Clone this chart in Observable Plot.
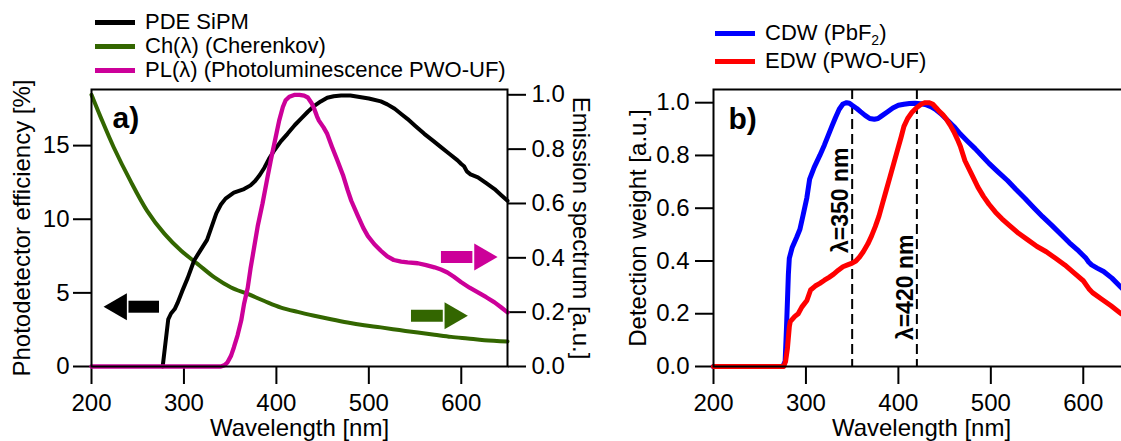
<!DOCTYPE html>
<html><head><meta charset="utf-8">
<script src="https://cdn.jsdelivr.net/npm/d3@7"></script>
<script src="https://cdn.jsdelivr.net/npm/@observablehq/plot@0.6"></script>
<style>
body{margin:0;background:#fff;}
#wrap{position:relative;width:1121px;height:441px;overflow:hidden;font-family:"Liberation Sans",Arial,sans-serif;color:#000;}
.panel{position:absolute;top:0;}
.legend{position:absolute;font-size:22px;line-height:1;}
.legend .row{display:flex;align-items:center;}
.sw{display:inline-block;width:40px;height:5px;margin-right:10px;}
sub{font-size:14px;vertical-align:-5px;line-height:0;}
</style></head><body><div id="wrap"></div>
<script>
// ---------- data ----------
const xTicks = [200, 300, 400, 500, 600];
const leftTicks = [0, 5, 10, 15];
const rightTicks = [0, 0.2, 0.4, 0.6, 0.8, 1.0];
const bTicks = [0, 0.2, 0.4, 0.6, 0.8, 1.0];
const xDomain = [200, 650];
const leftDomain = [0, 18.81];
const rightToLeft = 18.45; // 1.0 on right axis == 18.45 % on left axis
const bDomain = [0, 1.05];

// PDE SiPM [%] (left axis)
const pde = [[277,0],[283,3.2],[286,3.6],[290,3.9],[293,4.3],[298,5.1],[304,6.0],[311,7.2],[318,7.9],[325,8.6],[330,9.5],[335,10.4],[340,11.0],[345,11.4],[354,11.8],[365,12.05],[372,12.3],[377,12.6],[382,13.0],[387,13.5],[392,14.1],[398,14.7],[405,15.3],[412,15.8],[420,16.4],[427,16.85],[434,17.3],[441,17.7],[448,18.0],[455,18.25],[462,18.35],[470,18.4],[480,18.4],[490,18.3],[500,18.2],[513,18.0],[520,17.8],[528,17.5],[535,17.15],[542,16.8],[550,16.35],[560,15.8],[570,15.3],[578,14.9],[587,14.45],[596,14.0],[600,13.75],[603,13.6],[606,13.25],[610,13.05],[618,12.85],[627,12.45],[636,12.05],[643,11.65],[650,11.25]];
// Cherenkov Ch(λ) [a.u.] (right axis)
const cherenkov = [[200,1.0],[210,0.917],[224,0.807],[242,0.684],[260,0.574],[279,0.488],[297,0.426],[315,0.377],[333,0.328],[351,0.291],[369,0.267],[387,0.241],[405,0.217],[423,0.201],[441,0.187],[459,0.174],[477,0.162],[495,0.152],[513,0.144],[533,0.134],[553,0.125],[571,0.117],[589,0.109],[607,0.103],[625,0.097],[650,0.092]];
// Photoluminescence PL(λ) PWO-UF [a.u.] (right axis)
const pl = [[200,0],[340,0],[344,0.005],[347,0.015],[351,0.04],[354,0.07],[358,0.115],[362,0.17],[365,0.23],[369,0.29],[372,0.36],[376,0.44],[380,0.52],[385,0.6],[390,0.69],[394,0.76],[399,0.84],[403,0.905],[407,0.955],[410,0.98],[414,0.993],[420,1.0],[425,1.0],[430,0.997],[434,0.99],[438,0.97],[441,0.948],[444,0.92],[446,0.905],[451,0.88],[455,0.856],[460,0.81],[466,0.758],[472,0.705],[477,0.65],[481,0.61],[488,0.555],[494,0.51],[499,0.48],[506,0.45],[513,0.426],[520,0.405],[527,0.392],[535,0.386],[542,0.383],[553,0.38],[562,0.373],[571,0.365],[578,0.357],[585,0.346],[592,0.33],[600,0.31],[609,0.29],[618,0.273],[627,0.255],[636,0.236],[643,0.218],[650,0.199]];
// CDW (PbF2) detection weight
const cdw = [[200,0],[275,0],[277.5,0.02],[279,0.15],[280,0.25],[281,0.35],[282,0.41],[285,0.45],[290,0.49],[293.5,0.52],[297,0.575],[301,0.64],[304,0.71],[309,0.756],[315,0.8],[320,0.84],[324,0.875],[328,0.91],[332,0.944],[336,0.975],[340,0.995],[344,1.0],[347,0.998],[350,0.99],[355,0.978],[359,0.966],[364,0.952],[369,0.94],[374,0.937],[378,0.94],[382,0.95],[388,0.965],[394,0.98],[400,0.99],[406,0.994],[412,0.997],[418,0.998],[424,0.996],[429,0.993],[435,0.985],[440,0.975],[446,0.958],[452,0.937],[460,0.91],[467,0.881],[475,0.853],[483,0.826],[490,0.8],[498,0.77],[508,0.737],[518,0.705],[527,0.672],[537,0.637],[547,0.6],[556,0.568],[566,0.535],[576,0.5],[585,0.469],[595,0.438],[603,0.41],[606,0.395],[609,0.385],[615,0.373],[622,0.36],[631,0.335],[641,0.30],[650,0.27]];
// EDW (PWO-UF) detection weight
const edw = [[200,0],[276,0],[278,0.02],[280,0.07],[282,0.15],[283,0.17],[288,0.19],[291.6,0.2],[295.5,0.225],[301,0.25],[305,0.29],[310,0.305],[315,0.315],[320,0.327],[325,0.338],[330,0.35],[335,0.365],[340,0.378],[345,0.385],[350,0.392],[354,0.4],[358,0.415],[362,0.435],[367,0.465],[371,0.495],[375,0.53],[379,0.57],[383,0.62],[387,0.67],[391,0.72],[395,0.77],[399,0.82],[403,0.87],[406,0.91],[410,0.94],[415,0.965],[420,0.982],[425,0.995],[429,1.0],[433,1.0],[437,0.995],[441,0.98],[444,0.968],[448,0.955],[452,0.937],[456,0.915],[460,0.89],[464,0.86],[467,0.835],[472,0.78],[479,0.73],[486,0.68],[492,0.645],[498,0.615],[505,0.585],[512,0.56],[520,0.535],[530,0.505],[540,0.48],[550,0.455],[560,0.435],[570,0.41],[580,0.385],[590,0.355],[600,0.325],[606,0.295],[610,0.28],[620,0.255],[630,0.23],[641,0.2],[650,0.18]];

const markerLines = [350, 420];
const markerLabels = [{wl: 350, v: 0.63, text: "λ=350 nm"}, {wl: 420, v: 0.30, text: "λ=420 nm"}];
// direction arrows (data units): tail, head base, tip, level, axis
const arrowsA = [
  {tail: 273, base: 238, tip: 213.6, v: 4.06, axis: "left", color: "#000000"},
  {tail: 578, base: 614, tip: 639.4, v: 0.403, axis: "right", color: "#cc0099"},
  {tail: 545.6, base: 582, tip: 606.9, v: 0.187, axis: "right", color: "#336600"}
];

const legendA = [["PDE SiPM", "#000000"], ["Ch(λ) (Cherenkov)", "#336600"], ["PL(λ) (Photoluminescence PWO-UF)", "#cc0099"]];
const legendB = [["CDW (PbF<sub>2</sub>)", "#0000ff"], ["EDW (PWO-UF)", "#ff0000"]];

// ---------- drawing ----------
const K = rightToLeft;
const font = "Liberation Sans, Arial, sans-serif";
const wrap = document.getElementById("wrap");
const lvl = a => a.axis === "right" ? a.v * K : a.v;

const axisStyle = {tickSize: 18, strokeWidth: 2, fontSize: 24};

const plotA = Plot.plot({
  width: 600, height: 441,
  marginLeft: 91, marginRight: 93, marginTop: 89, marginBottom: 75,
  style: {fontFamily: font, fontSize: "24px", color: "#000", background: "transparent", overflow: "visible"},
  x: {domain: xDomain},
  y: {domain: leftDomain},
  marks: [
    Plot.axisX({ticks: xTicks, ...axisStyle, tickPadding: 9, label: null}),
    Plot.axisY({ticks: leftTicks, ...axisStyle, tickPadding: 4, label: null}),
    Plot.axisY(rightTicks.map(v => v * K), {anchor: "right", ...axisStyle, tickPadding: 6, tickFormat: d => (d / K).toFixed(1), label: null}),
    Plot.text(["Wavelength [nm]"], {frameAnchor: "bottom", dy: 62, textAnchor: "middle", lineAnchor: "middle", fontSize: 24}),
    Plot.text(["Photodetector efficiency [%]"], {frameAnchor: "left", dx: -69, rotate: -90, textAnchor: "middle", lineAnchor: "middle", fontSize: 24}),
    Plot.text(["Emission spectrum [a.u.]"], {frameAnchor: "right", dx: 73, rotate: 90, textAnchor: "middle", lineAnchor: "middle", fontSize: 24}),
    Plot.line(cherenkov, {x: d => d[0], y: d => d[1] * K, stroke: "#336600", strokeWidth: 4, curve: "catmull-rom"}),
    Plot.line(pde, {x: d => d[0], y: d => d[1], stroke: "#000000", strokeWidth: 4}),
    Plot.line(pl, {x: d => d[0], y: d => d[1] * K, stroke: "#cc0099", strokeWidth: 4.3}),
    Plot.link(arrowsA, {x1: "tail", x2: d => d.base + (d.tip < d.tail ? 2 : -2), y1: lvl, y2: lvl, stroke: "color", strokeWidth: 12, strokeLinecap: "butt"}),
    Plot.dot(arrowsA, {x: d => d.tip + (d.base - d.tip) * 2 / 3, y: lvl, symbol: "triangle", r: 10, fill: "color", stroke: null, rotate: d => d.tip < d.tail ? -90 : 90}),
    Plot.text(["a)"], {frameAnchor: "top-left", dx: 21, dy: 38, textAnchor: "start", lineAnchor: "bottom", fontSize: 30, fontWeight: "bold"}),
    Plot.frame({strokeWidth: 2})
  ]
});
plotA.classList.add("panel");
plotA.style.left = "0px";
wrap.appendChild(plotA);

const plotB = Plot.plot({
  width: 529, height: 441,
  marginLeft: 113, marginRight: 0, marginTop: 89, marginBottom: 75,
  style: {fontFamily: font, fontSize: "24px", color: "#000", background: "transparent", overflow: "visible"},
  x: {domain: xDomain},
  y: {domain: bDomain},
  marks: [
    Plot.axisX({ticks: xTicks, ...axisStyle, tickPadding: 9, label: null}),
    Plot.axisY({ticks: bTicks, ...axisStyle, tickPadding: 6, tickFormat: d => d.toFixed(1), label: null}),
    Plot.text(["Wavelength [nm]"], {frameAnchor: "bottom", dy: 62, textAnchor: "middle", lineAnchor: "middle", fontSize: 24}),
    Plot.text(["Detection weight [a.u.]"], {frameAnchor: "left", dx: -75, rotate: -90, textAnchor: "middle", lineAnchor: "middle", fontSize: 24}),
    Plot.ruleX(markerLines, {stroke: "#000", strokeWidth: 2, strokeDasharray: "10,5"}),
    Plot.text(markerLabels, {x: "wl", y: "v", text: "text", rotate: -90, dx: -4, lineAnchor: "bottom", fontSize: 23, fontWeight: "bold"}),
    Plot.line(cdw, {x: d => d[0], y: d => d[1], stroke: "#0000ff", strokeWidth: 5}),
    Plot.line(edw, {x: d => d[0], y: d => d[1], stroke: "#ff0000", strokeWidth: 5}),
    Plot.text(["b)"], {frameAnchor: "top-left", dx: 15, dy: 39, textAnchor: "start", lineAnchor: "bottom", fontSize: 30, fontWeight: "bold"}),
    Plot.frame({strokeWidth: 2})
  ]
});
plotB.classList.add("panel");
plotB.style.left = "600px";
wrap.appendChild(plotB);

function legend(items, left, top, rowH) {
  const div = document.createElement("div");
  div.className = "legend";
  div.style.left = left + "px";
  div.style.top = top + "px";
  for (const [label, color] of items) {
    const row = document.createElement("div");
    row.className = "row";
    row.style.height = rowH + "px";
    row.innerHTML = `<span class="sw" style="background:${color}"></span><span>${label}</span>`;
    div.appendChild(row);
  }
  wrap.appendChild(div);
}
legend(legendA, 95, 10, 24.2);
legend(legendB, 715, 19, 28.3);
</script></body></html>
